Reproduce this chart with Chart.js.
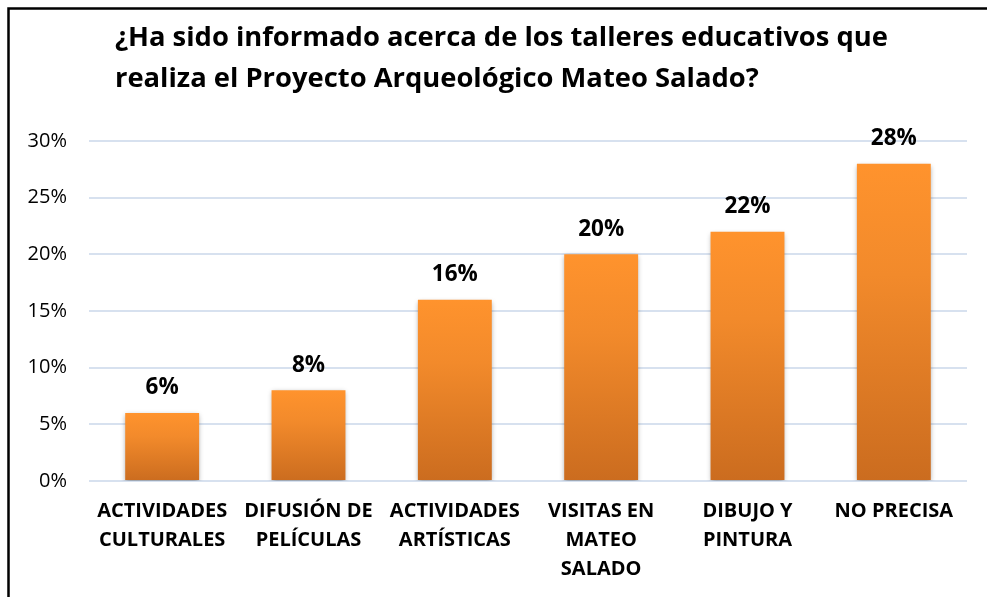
<!DOCTYPE html>
<html>
<head>
<meta charset="utf-8">
<script src="https://cdn.jsdelivr.net/npm/chart.js@4/dist/chart.umd.min.js"></script>
<style>
html,body{margin:0;padding:0;background:#fff;}
#wrap{position:relative;width:987px;height:597px;}
</style>
</head>
<body>
<div id="wrap"><canvas id="c" width="987" height="597"></canvas></div>
<script>
const titleLines = ["¿Ha sido informado acerca de los talleres educativos que", "realiza el Proyecto Arqueológico Mateo Salado?"];
const categories = [
  ["ACTIVIDADES", "CULTURALES"],
  ["DIFUSIÓN DE", "PELÍCULAS"],
  ["ACTIVIDADES", "ARTÍSTICAS"],
  ["VISITAS EN", "MATEO", "SALADO"],
  ["DIBUJO Y", "PINTURA"],
  ["NO PRECISA"]
];
const values = [6, 8, 16, 20, 22, 28];
const yMin = 0, yMax = 30, yStep = 5;

const FONT = "'Open Sans', Lato, 'Liberation Sans', sans-serif";

const framePlugin = {
  id: 'frame',
  beforeDraw(chart) {
    const c = chart.ctx;
    c.save();
    c.fillStyle = '#fff';
    c.fillRect(0, 0, chart.width, chart.height);
    c.strokeStyle = '#000';
    c.lineWidth = 2.5;
    c.strokeRect(8.5, 8.5, chart.width + 20, chart.height + 20);
    c.restore();
  },
  afterDraw(chart) {
    const c = chart.ctx;
    c.save();
    c.fillStyle = '#000';
    let size = 25;
    c.font = "bold " + size + "px " + FONT;
    const w = c.measureText(titleLines[0]).width;
    size = size * 773 / w;
    c.font = "bold " + size.toFixed(2) + "px " + FONT;
    c.textBaseline = 'middle';
    c.textAlign = 'left';
    c.fillText(titleLines[0], 115, 38);
    c.fillText(titleLines[1], 115, 79);
    c.restore();
  }
};

const shadowPlugin = {
  id: 'barShadow',
  beforeDatasetsDraw(chart) {
    const c = chart.ctx;
    c.save();
    c.shadowColor = 'rgba(0,0,0,0.35)';
    c.shadowBlur = 5;
    c.shadowOffsetX = 0;
    c.shadowOffsetY = 2;
  },
  afterDatasetsDraw(chart) {
    chart.ctx.restore();
    const c = chart.ctx;
    const meta = chart.getDatasetMeta(0);
    c.save();
    c.fillStyle = '#000';
    c.font = "bold 22.5px " + FONT;
    c.textAlign = 'center';
    c.textBaseline = 'middle';
    meta.data.forEach((el, i) => {
      c.fillText(values[i] + '%', el.x, el.y - 25);
    });
    c.restore();
  }
};

function barGradient(ctx) {
  const chart = ctx.chart;
  const ys = chart.scales && chart.scales.y;
  if (!ys || ctx.type !== 'data' || !chart.chartArea) return '#F08A2A';
  const top = ys.getPixelForValue(ctx.raw);
  const base = ys.getPixelForValue(0);
  if (!isFinite(top) || !isFinite(base) || top === base) return '#F08A2A';
  const g = chart.ctx.createLinearGradient(0, top, 0, base);
  g.addColorStop(0, '#FF932D');
  g.addColorStop(0.35, '#F28A2B');
  g.addColorStop(1, '#CB6C1F');
  return g;
}

new Chart(document.getElementById('c'), {
  type: 'bar',
  data: {
    labels: categories,
    datasets: [{
      data: values,
      backgroundColor: barGradient,
      borderWidth: 0,
      barPercentage: 0.505,
      categoryPercentage: 1.0
    }]
  },
  options: {
    responsive: false,
    animation: false,
    events: [],
    layout: { padding: { top: 141, right: 20, left: 0, bottom: 0 } },
    plugins: { legend: { display: false }, title: { display: false }, tooltip: { enabled: false } },
    scales: {
      x: {
        grid: { display: false, drawTicks: false },
        border: { display: false },
        ticks: {
          color: '#000',
          font: { family: FONT, size: 20, weight: 'bold', lineHeight: 1.45 },
          padding: 16,
          maxRotation: 0,
          autoSkip: false
        },
        afterFit(scale) { scale.height = 116; }
      },
      y: {
        min: yMin,
        max: yMax,
        grid: { color: '#D7E1EF', lineWidth: 2, drawTicks: false },
        border: { display: false },
        ticks: {
          stepSize: yStep,
          color: '#000',
          font: { family: FONT, size: 20 },
          padding: 22,
          callback: v => v + '%'
        },
        afterFit(scale) { scale.width = 89; }
      }
    }
  },
  plugins: [framePlugin, shadowPlugin]
});
</script>
</body>
</html>
